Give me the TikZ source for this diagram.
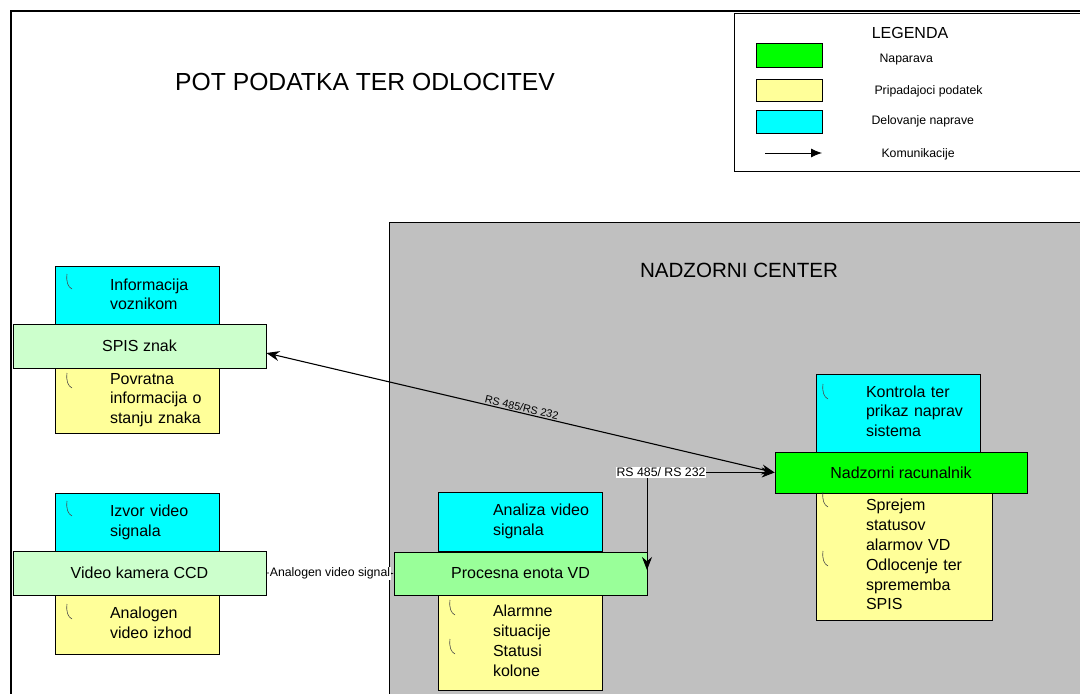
\documentclass[tikz,border=0pt]{standalone}
\usepackage{fontspec}
\setmainfont{Liberation Sans}
\usepackage{xcolor}
\usetikzlibrary{arrows.meta}
\makeatletter
\renewcommand\small{%
  \@setfontsize\small{16pt}{19.8pt}%
}
\renewcommand\footnotesize{%
  \@setfontsize\footnotesize{12.3pt}{14pt}%
}
\renewcommand\scriptsize{%
  \@setfontsize\scriptsize{10.8pt}{13pt}%
}
\renewcommand\large{%
  \@setfontsize\large{20.6pt}{24pt}%
}
\renewcommand\Large{%
  \@setfontsize\Large{24.7pt}{29pt}%
}
\makeatother

\definecolor{funccyan}{HTML}{00FFFF}
\definecolor{datayellow}{HTML}{FFFF99}
\definecolor{devpale}{HTML}{CCFFCC}
\definecolor{devmid}{HTML}{99FF99}
\definecolor{devbright}{HTML}{00FF00}
\definecolor{centergray}{HTML}{C0C0C0}

% indented list inside the side boxes
\newcommand\notes[2]{\hspace*{#1}\begin{tabular}{@{}l@{}}#2\end{tabular}}

\begin{document}
\begin{tikzpicture}[x=1pt, y=-1pt, >=Stealth, every node/.style={font=\small},
  note/.style={draw, line width=0.8pt, fill=#1, inner sep=0pt, align=left},
  device/.style={draw, line width=0.8pt, fill=#1, inner sep=0pt, align=center},
  link/.style={line width=1.1pt, {Stealth[length=13pt,width=10pt]}-{Stealth[length=13pt,width=10pt]}},
  pics/bullet/.style={code={\draw[black!70, line width=0.6pt] (0,-11) .. controls (-1,-3) and (1,2) .. (5,4);}}]
  \useasboundingbox (0,0) rectangle (1080,694);
  \fill[white] (0,0) rectangle (1080,694);
  \draw[line width=2pt] (1090,11) -- (11,11) -- (11,700);

  % control centre area
  \draw[fill=centergray, line width=1pt] (389,222) rectangle (1090,700);
  \node[font=\Large] (title) at (365,82) {POT PODATKA TER ODLOCITEV};
  \node[font=\large] (centre) at (739,270) {NADZORNI CENTER};

  % legend
  \draw[line width=0.8pt] (1090,13) -- (734,13) -- (734,171) -- (1090,171);
  \node (legtitle) at (910,33) {LEGENDA};
  \node[device=devbright, minimum width=66, minimum height=24] (legdev) at (789,55) {};
  \node[note=datayellow, minimum width=66, minimum height=22] (legdata) at (789,90) {};
  \node[note=funccyan, minimum width=66, minimum height=23] (legfunc) at (789,121.5) {};
  \coordinate (legfrom) at (765,153);
  \coordinate (legto) at (822,153);
  \draw[line width=0.8pt, -{Latex[length=11pt,width=9pt]}] (legfrom) -- (legto);
  \node[font=\footnotesize, anchor=base west] (legdevtxt) at (876,62.4) {Naparava};
  \node[font=\footnotesize, anchor=base west] (legdatatxt) at (871,94.4) {Pripadajoci podatek};
  \node[font=\footnotesize, anchor=base west] (legfunctxt) at (868,124.4) {Delovanje naprave};
  \node[font=\footnotesize, anchor=base west] (leglinktxt) at (878,157.4) {Komunikacije};

  % SPIS sign
  \node[note=funccyan, text width=164, minimum height=60] (spisfunc) at (137,296)
    {\notes{55pt}{Informacija\\voznikom}};
  \node[note=datayellow, text width=164, minimum height=66] (spisdata) at (137,400)
    {\notes{55pt}{Povratna\\informacija o\\stanju znaka}};
  \node[device=devpale, minimum width=253, minimum height=44] (spis) at (139.5,346) {SPIS znak};
  \pic at (67,285) {bullet};
  \pic at (67,384) {bullet};

  % camera
  \node[note=funccyan, text width=164, minimum height=59] (camfunc) at (137,522.5)
    {\notes{55pt}{Izvor video\\signala}};
  \node[note=datayellow, text width=164, minimum height=59] (camdata) at (137,624.5)
    {\notes{55pt}{Analogen\\video izhod}};
  \node[device=devpale, minimum width=253, minimum height=44] (cam) at (139.5,573) {Video kamera CCD};
  \pic at (67,512) {bullet};
  \pic at (67,615) {bullet};

  % video detection unit
  \node[note=funccyan, text width=164, minimum height=59] (procfunc) at (520,521.5)
    {\notes{55pt}{Analiza video\\signala}};
  \node[note=datayellow, text width=164, minimum height=95] (procdata) at (520,642.5)
    {\notes{55pt}{Alarmne\\situacije\\Statusi\\kolone}};
  \node[device=devmid, minimum width=253, minimum height=43] (proc) at (520.5,573.5) {Procesna enota VD};
  \pic at (450,611) {bullet};
  \pic at (450,650) {bullet};

  % supervisory computer
  \node[note=funccyan, text width=164, minimum height=78] (nadzfunc) at (898,413)
    {\notes{50pt}{Kontrola ter\\prikaz naprav\\sistema}};
  \node[note=datayellow, text width=176, minimum height=127] (nadzdata) at (904,556.5)
    {\notes{50pt}{Sprejem\\statusov\\alarmov VD\\Odlocenje ter\\sprememba\\SPIS}};
  \node[device=devbright, minimum width=252, minimum height=41] (nadz) at (901,472.5) {Nadzorni racunalnik};
  \pic at (823,395) {bullet};
  \pic at (823,503) {bullet};
  \pic at (823,562) {bullet};

  % communication
  \draw[link] ([yshift=-7pt]spis.east) -- node[sloped, above, font=\scriptsize, inner sep=1pt] {RS 485/RS 232} (nadz.west);
  \coordinate (procport) at (647,570);
  \draw[link, line width=0.8pt] (procport) |- node[pos=0.555, fill=white, inner sep=1pt, font=\footnotesize] {RS 485/ RS 232} (nadz.west);
  \draw[line width=0.6pt, -{Latex[length=5pt,width=4pt]}] (cam.east) -- node[fill=white, inner sep=1pt, font=\footnotesize] {Analogen video signal} (proc.west);
\end{tikzpicture}
\end{document}
